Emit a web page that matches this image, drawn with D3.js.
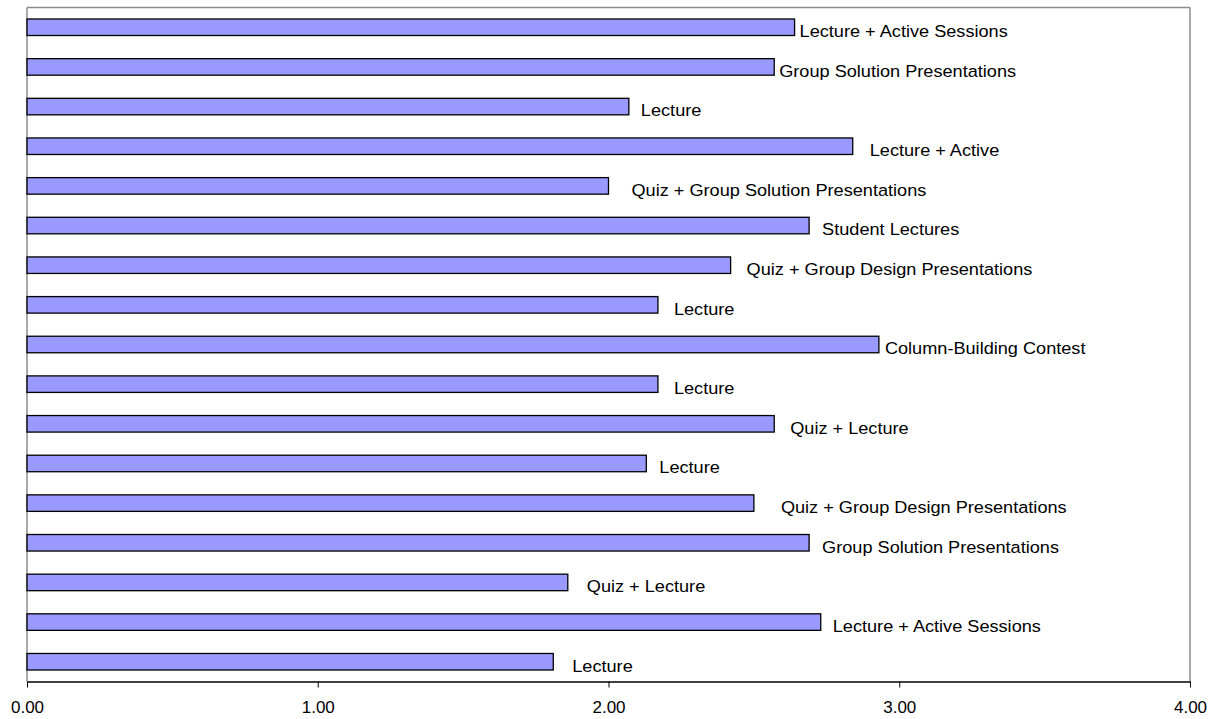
<!DOCTYPE html>
<html>
<head>
<meta charset="utf-8">
<script src="https://cdn.jsdelivr.net/npm/d3@7"></script>
<style>
  html, body { margin: 0; padding: 0; background: #fff; }
  svg { display: block; font-family: "Liberation Sans", Arial, sans-serif; }
</style>
</head>
<body>
<svg id="chart" width="1214" height="719"></svg>
<script>
// Session formats, listed top to bottom
const sessions = [
  "Lecture + Active Sessions",
  "Group Solution Presentations",
  "Lecture",
  "Lecture + Active",
  "Quiz + Group Solution Presentations",
  "Student Lectures",
  "Quiz + Group Design Presentations",
  "Lecture",
  "Column-Building Contest",
  "Lecture",
  "Quiz + Lecture",
  "Lecture",
  "Quiz + Group Design Presentations",
  "Group Solution Presentations",
  "Quiz + Lecture",
  "Lecture + Active Sessions",
  "Lecture"
];

// Average rating for each session
const ratings = [2.64, 2.57, 2.07, 2.84, 2.00, 2.69, 2.42, 2.17, 2.93, 2.17, 2.57, 2.13, 2.50, 2.69, 1.86, 2.73, 1.81];

// Value axis ticks
const tickValues = [0, 1, 2, 3, 4];

// ---- layout ----
const margin = { top: 7.5, right: 24, bottom: 37.5, left: 27 };
const width = 1214, height = 719;
const svg = d3.select("#chart");

const x = d3.scaleLinear()
  .domain([0, 4])
  .range([margin.left, width - margin.right]);

const y = d3.scaleBand()
  .domain(d3.range(sessions.length))
  .range([margin.top, height - margin.bottom])
  .paddingInner(0.5833)
  .paddingOuter(0.29);

// spacing between each bar end and its label, in px
const labelGap = [5, 5, 12, 17, 23, 13, 16, 16, 6, 16, 16, 13, 27, 13, 19, 12, 19];

// plot-area frame (grey) on top, left and right
const frame = svg.append("g").attr("fill", "none").attr("stroke", "#8c8c8c").attr("stroke-width", 1.5);
frame.append("line").attr("x1", x(0)).attr("x2", x(4)).attr("y1", margin.top).attr("y2", margin.top);
frame.append("line").attr("x1", x(0)).attr("x2", x(0)).attr("y1", margin.top).attr("y2", height - margin.bottom);
frame.append("line").attr("x1", x(4)).attr("x2", x(4)).attr("y1", margin.top).attr("y2", height - margin.bottom);

// bars
svg.append("g")
  .selectAll("rect")
  .data(ratings)
  .join("rect")
  .attr("x", x(0))
  .attr("y", (d, i) => y(i))
  .attr("width", d => x(d) - x(0))
  .attr("height", y.bandwidth())
  .attr("fill", "#9999ff")
  .attr("stroke", "#000")
  .attr("stroke-width", 1.3);

// category labels beside each bar (slightly wide lettering)
svg.append("g")
  .selectAll("text")
  .data(ratings)
  .join("text")
  .attr("transform", (d, i) =>
    `translate(${x(d) + labelGap[i]},${y(i) + y.bandwidth() / 2 + 4}) scale(1.1,1)`)
  .attr("dy", "0.35em")
  .attr("font-size", 16.5)
  .attr("fill", "#000")
  .text((d, i) => sessions[i]);

// value axis along the bottom
const xAxis = d3.axisBottom(x)
  .tickValues(tickValues)
  .tickFormat(d3.format(".2f"))
  .tickSizeInner(6)
  .tickSizeOuter(0)
  .tickPadding(13);

const gx = svg.append("g")
  .attr("transform", `translate(0,${height - margin.bottom})`)
  .call(xAxis);
gx.select(".domain").attr("stroke", "#000").attr("stroke-width", 1.5);
gx.selectAll(".tick line").attr("stroke", "#000");
gx.selectAll(".tick text")
  .attr("font-size", 17)
  .attr("font-family", "'Liberation Sans', Arial, sans-serif")
  .attr("fill", "#000");
</script>
</body>
</html>
